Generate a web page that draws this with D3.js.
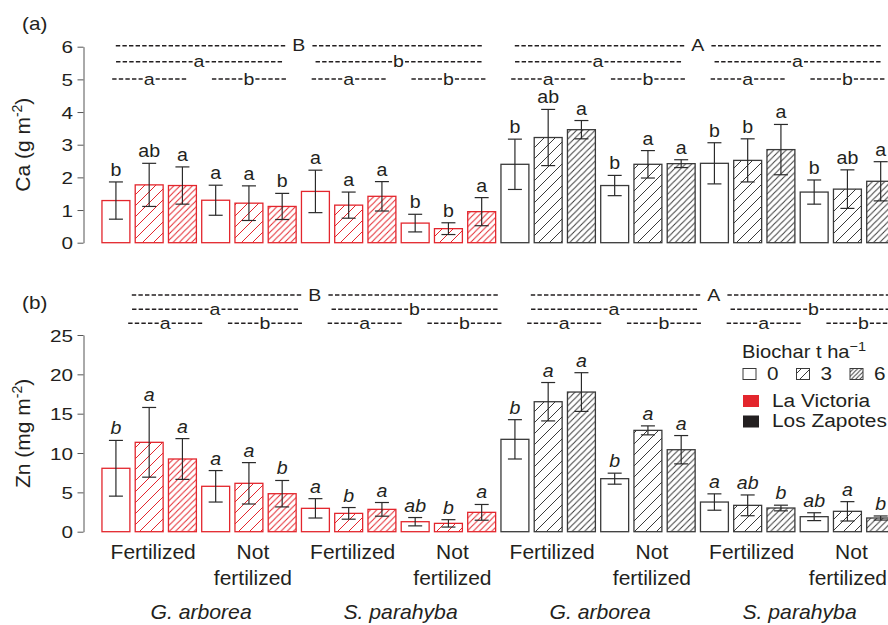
<!DOCTYPE html>
<html>
<head>
<meta charset="utf-8">
<script src="https://cdn.jsdelivr.net/npm/d3@7"></script>
<style>
body { margin: 0; background: #fff; }
svg { display: block; font-family: "Liberation Sans", Arial, Helvetica, sans-serif; }
</style>
</head>
<body>
<svg id="chart" width="888" height="625"></svg>
<script>
// Ca and Zn per site / species / fertilization / biochar rate (mean and error)

var sites = ['La Victoria', 'Los Zapotes']
var species = ['G. arborea', 'S. parahyba']
var fertilization = ['Fertilized', 'Not fertilized']
var biochar = ['0', '3', '6']

var caMean = [1.29, 1.77, 1.75, 1.30, 1.21, 1.11,  1.57, 1.15, 1.42, 0.60, 0.43, 0.95,
	2.40, 3.22, 3.46, 1.75, 2.40, 2.42,  2.43, 2.52, 2.85, 1.55, 1.64, 1.88]
var caErr = [0.57, 0.66, 0.57, 0.46, 0.53, 0.40,  0.65, 0.40, 0.45, 0.27, 0.18, 0.43,
	0.77, 0.86, 0.28, 0.31, 0.42, 0.12,  0.63, 0.66, 0.77, 0.37, 0.59, 0.60]
var caLetters = ['b', 'ab', 'a', 'a', 'a', 'b',  'a', 'a', 'a', 'b', 'b', 'a',
	'b', 'ab', 'a', 'b', 'a', 'a',  'b', 'b', 'a', 'b', 'ab', 'a']
var caTicks = [0, 1, 2, 3, 4, 5, 6]
var caSite = ['B', 'A']
var caSpecies = ['a', 'b', 'a', 'a']
var caFert = ['a', 'b', 'a', 'b', 'a', 'b', 'a', 'b']

var znMean = [8.06, 11.36, 9.24, 5.77, 6.15, 4.83,  2.97, 2.33, 2.84, 1.27, 1.06, 2.46,
	11.74, 16.52, 17.75, 6.74, 12.88, 10.42,  3.77, 3.35, 3.01, 1.91, 2.59, 1.74]
var znErr = [3.54, 4.43, 2.59, 2.00, 2.63, 1.68,  1.23, 0.74, 0.87, 0.53, 0.47, 1.00,
	2.50, 2.44, 2.46, 0.70, 0.57, 1.80,  1.04, 1.32, 0.36, 0.50, 1.23, 0.26]
var znLetters = ['b', 'a', 'a', 'a', 'a', 'b',  'a', 'b', 'a', 'ab', 'b', 'a',
	'b', 'a', 'a', 'b', 'a', 'a',  'a', 'ab', 'b', 'ab', 'a', 'b']
var znTicks = [0, 5, 10, 15, 20, 25]
var znSite = ['B', 'A']
var znSpecies = ['a', 'b', 'a', 'b']
var znFert = ['a', 'b', 'a', 'b', 'a', 'b', 'a', 'b']

var red = '#e3262d', dark = '#3a3a3a', ink = '#231f20', axisGrey = '#555'

var svg = d3.select('#chart')
var defs = svg.append('defs')

// one entry per bar, in plotting order
var bars = []
sites.forEach(function(site, s) {
	species.forEach(function(sp, p) {
		fertilization.forEach(function(f, k) {
			biochar.forEach(function(rate) {
				bars.push({id: bars.length, site: s, species: p, fert: k, rate: rate})
			})
		})
	})
})

var x = d3.scaleBand()
	.domain(bars.map(function(d) { return d.id }))
	.range([99.3, 897.3])
	.paddingInner(0.16).paddingOuter(0.08)
var bw = x.bandwidth()

// hatch patterns
function hatch(id, step, colour) {
	defs.append('pattern').attr('id', id)
		.attr('patternUnits', 'userSpaceOnUse')
		.attr('width', step).attr('height', step)
		.append('path')
		.attr('d', 'M' + (-step / 4) + ',' + (step / 4) + 'L' + (step / 4) + ',' + (-step / 4) +
			'M0,' + step + 'L' + step + ',0' +
			'M' + (3 * step / 4) + ',' + (5 * step / 4) + 'L' + (5 * step / 4) + ',' + (3 * step / 4))
		.attr('stroke', colour).attr('stroke-width', 1)
}
hatch('h3-0', 11, red); hatch('h6-0', 6.2, red)
hatch('h3-1', 11, dark); hatch('h6-1', 6.2, dark)
hatch('h3-l', 9, dark); hatch('h6-l', 4.2, dark)

function fillFor(d) {
	if (d.rate == '0') return '#fff'
	return 'url(#h' + d.rate + '-' + d.site + ')'
}

function label(parent, px, py, str, size, sx, anchor, italic) {
	return parent.append('text')
		.attr('transform', 'translate(' + px + ',' + py + ') scale(' + sx + ',1)')
		.attr('text-anchor', anchor || 'start')
		.attr('fill', ink)
		.style('font-size', size + 'px')
		.style('font-style', italic ? 'italic' : null)
		.text(str)
}

function groupCenter(first, n) {
	return (x(first) + x(first + n - 1) + bw) / 2
}

// dashed bracket with a letter in the middle
function bracket(g, cx, yLine, letter, half, gap) {
	var sx = 1.15
	var t = label(g, cx, yLine + 5.5, letter, 17, sx, 'middle')
	var w = t.node().getComputedTextLength() * sx
	var segs = [[cx - half, cx - w / 2 - gap], [cx + half, cx + w / 2 + gap]]
	segs.forEach(function(s) {
		g.append('line')
			.attr('x1', s[0]).attr('x2', s[1])
			.attr('y1', yLine).attr('y2', yLine)
			.attr('stroke', ink).attr('stroke-width', 1.5)
			.attr('stroke-dasharray', '4.4,2.2')
	})
}

function panel(cfg) {
	var g = svg.append('g')
	var y = d3.scaleLinear().domain(cfg.domain).range(cfg.range)

	// axis
	var ax = g.append('g').attr('transform', 'translate(83.5,0)')
		.call(d3.axisLeft(y).tickValues(cfg.ticks).tickFormat(d3.format('d'))
			.tickSize(6).tickSizeOuter(0))
		.attr('font-size', null).attr('font-family', null)
	ax.select('.domain').attr('stroke', axisGrey)
	ax.selectAll('.tick line').attr('stroke', axisGrey)
	ax.selectAll('.tick text')
		.attr('fill', ink).style('font-size', '17px')
		.attr('x', -10.5 / 1.22).attr('dy', '0.36em')
		.attr('transform', 'scale(1.22,1)')

	// axis title
	var cy = (cfg.range[0] + cfg.range[1]) / 2
	var tt = g.append('text')
		.attr('transform', 'translate(30,' + cy + ') rotate(-90)')
		.attr('text-anchor', 'middle').attr('fill', ink)
		.style('font-size', '21px')
	tt.append('tspan').text(cfg.title)
	tt.append('tspan').attr('dy', -8).style('font-size', '14px').text('-2')
	tt.append('tspan').attr('dy', 8).text(')')

	label(g, 22, cfg.tagY, cfg.tag, 18, 1.15)

	// bars
	g.selectAll('rect.bar').data(bars).enter().append('rect')
		.attr('class', 'bar')
		.attr('x', function(d) { return x(d.id) })
		.attr('width', bw)
		.attr('y', function(d) { return y(cfg.mean[d.id]) })
		.attr('height', function(d) { return y(0) - y(cfg.mean[d.id]) })
		.attr('fill', fillFor)
		.attr('stroke', function(d) { return d.site ? dark : red })
		.attr('stroke-width', 1.3)

	// error bars
	var eb = g.selectAll('g.err').data(bars).enter().append('g')
		.attr('transform', function(d) { return 'translate(' + (x(d.id) + bw / 2) + ',0)' })
		.attr('stroke', '#2a2a2a').attr('stroke-width', 1.2)
	eb.append('line')
		.attr('y1', function(d) { return y(cfg.mean[d.id] - cfg.err[d.id]) })
		.attr('y2', function(d) { return y(cfg.mean[d.id] + cfg.err[d.id]) })
	eb.append('line').attr('x1', -7).attr('x2', 7)
		.attr('y1', function(d) { return y(cfg.mean[d.id] - cfg.err[d.id]) })
		.attr('y2', function(d) { return y(cfg.mean[d.id] - cfg.err[d.id]) })
	eb.append('line').attr('x1', -7).attr('x2', 7)
		.attr('y1', function(d) { return y(cfg.mean[d.id] + cfg.err[d.id]) })
		.attr('y2', function(d) { return y(cfg.mean[d.id] + cfg.err[d.id]) })

	bars.forEach(function(d) {
		label(g, x(d.id) + bw / 2, y(cfg.mean[d.id] + cfg.err[d.id]) - 6,
			cfg.letters[d.id], 17.5, 1.12, 'middle', cfg.italic)
	})

	// significance brackets
	var dx = cfg.shift
	cfg.site.forEach(function(l, i) {
		bracket(g, groupCenter(i * 12, 12) + dx, cfg.rows[0], l, 183, 6)
	})
	cfg.species.forEach(function(l, i) {
		bracket(g, groupCenter(i * 6, 6) + dx, cfg.rows[1], l, 83, 1)
	})
	cfg.fert.forEach(function(l, i) {
		bracket(g, groupCenter(i * 3, 3) + dx, cfg.rows[2], l, 37, 1)
	})
	return y
}

panel({domain: [0, 6], range: [242.7, 46.7], ticks: caTicks,
	mean: caMean, err: caErr, letters: caLetters, italic: false,
	site: caSite, species: caSpecies, fert: caFert,
	rows: [45.7, 61.7, 79], shift: 0,
	title: 'Ca (g m', tag: '(a)', tagY: 30})

panel({domain: [0, 25], range: [531.7, 335], ticks: znTicks,
	mean: znMean, err: znErr, letters: znLetters, italic: true,
	site: znSite, species: znSpecies, fert: znFert,
	rows: [295, 309.3, 323.3], shift: 16,
	title: 'Zn (mg m', tag: '(b)', tagY: 309})

// x labels, kept inside the right edge
var xl = svg.append('g')
var W = +svg.attr('width')
for (var i = 0; i < 8; i++) {
	var cx = groupCenter(i * 3, 3) + 4
	var f = fertilization[i % 2].split(' ')
	f.forEach(function(word, r) {
		var t = label(xl, cx, 559 + r * 26, word, 20, 1.05, 'middle')
		var half = t.node().getComputedTextLength() * 1.05 / 2
		if (cx + half > W - 1) {
			t.attr('transform', 'translate(' + (W - 1 - half) + ',' + (559 + r * 26) + ') scale(1.05,1)')
		}
	})
}
for (var j = 0; j < 4; j++) {
	label(xl, groupCenter(j * 6, 6) + 2, 619, species[j % 2], 20, 1.06, 'middle', true)
}

// legend
var lg = svg.append('g')
var lt = lg.append('text')
	.attr('transform', 'translate(742,358) scale(1.12,1)')
	.attr('fill', ink).style('font-size', '18px')
lt.append('tspan').text('Biochar t ha')
lt.append('tspan').attr('dy', -7).style('font-size', '13px').text('\u22121')

biochar.forEach(function(r, i) {
	var lx = 743 + i * 53.5
	lg.append('rect').attr('x', lx).attr('y', 368.5).attr('width', 13).attr('height', 11)
		.attr('fill', r == '0' ? '#fff' : 'url(#h' + r + '-l)')
		.attr('stroke', dark).attr('stroke-width', 1)
	label(lg, lx + 24, 380, r, 18, 1.15)
})
sites.forEach(function(s, i) {
	lg.append('rect').attr('x', 743).attr('y', 395 + i * 20.5).attr('width', 16).attr('height', 12)
		.attr('fill', i ? ink : red)
	label(lg, 772, 406.5 + i * 20.5, s, 18, 1.16)
})
</script>
</body>
</html>
